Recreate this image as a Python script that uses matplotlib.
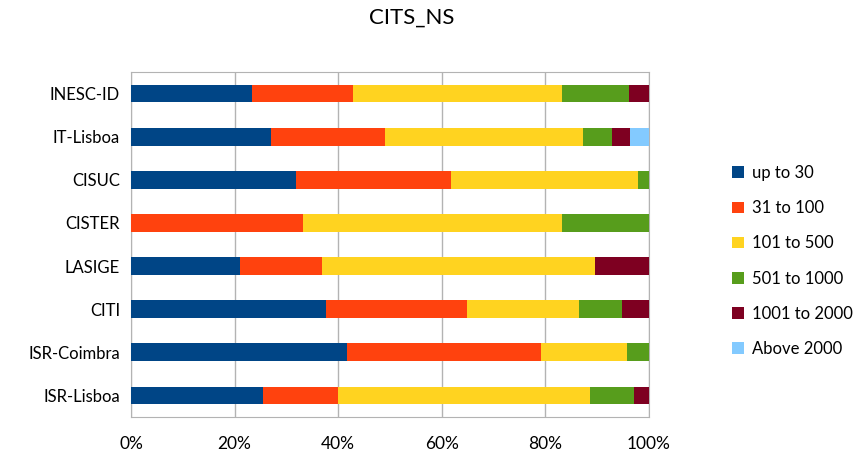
import matplotlib.pyplot as plt
import numpy as np

plt.rcParams['font.family'] = ['Lato', 'DejaVu Sans']

title = "CITS_NS"
centres = ["ISR-Lisboa", "ISR-Coimbra", "CITI", "LASIGE", "CISTER", "CISUC", "IT-Lisboa", "INESC-ID"]
series = ["up to 30", "31 to 100", "101 to 500", "501 to 1000", "1001 to 2000", "Above 2000"]
colors = ["#004586", "#ff420e", "#ffd320", "#579d1c", "#7e0021", "#83caff"]

# percentages per centre (same order as centres)
up_to_30     = [25.5, 41.7, 37.7, 21.0,  0.0, 31.8, 27.1, 23.4]
r31_100      = [14.5, 37.5, 27.1, 15.9, 33.3, 29.9, 21.9, 19.5]
r101_500     = [48.6, 16.6, 21.7, 52.6, 50.0, 36.2, 38.2, 40.3]
r501_1000    = [ 8.5,  4.2,  8.2,  0.0, 16.7,  2.1,  5.6, 13.0]
r1001_2000   = [ 2.9,  0.0,  5.3, 10.5,  0.0,  0.0,  3.6,  3.8]
above_2000   = [ 0.0,  0.0,  0.0,  0.0,  0.0,  0.0,  3.6,  0.0]

data = np.array([up_to_30, r31_100, r101_500, r501_1000, r1001_2000, above_2000])
data = data / data.sum(axis=0) * 100

fig = plt.figure(figsize=(8.59, 4.57), dpi=100)
ax = fig.add_axes([131 / 859, (457 - 417) / 457, 518 / 859, 345 / 457])

y = np.arange(len(centres))
left = np.zeros(len(centres))
for vals, name, col in zip(data, series, colors):
    ax.barh(y, vals, left=left, height=0.41, color=col, label=name, zorder=3)
    left += vals

ax.set_xlim(0, 100)
ax.set_ylim(-0.5, len(centres) - 0.5)
ax.set_xticks([0, 20, 40, 60, 80, 100])
ax.set_xticklabels([f"{t}%" for t in [0, 20, 40, 60, 80, 100]], fontsize=12.5)
ax.set_yticks(y)
ax.set_yticklabels(centres, fontsize=12)
ax.tick_params(length=0, pad=8)
ax.tick_params(axis='x', pad=14)
ax.grid(axis='x', color='#b3b3b3', linewidth=1, zorder=0)
for s in ax.spines.values():
    s.set_color('#b3b3b3')

fig.text(412 / 859, 1 - 18 / 457, title, fontsize=16, ha='center', va='center')

fig.legend(loc='center left', bbox_to_anchor=(732 / 859, 1 - 261 / 457), frameon=False,
           fontsize=12, handlelength=0.7, handleheight=0.7, handletextpad=0.5,
           labelspacing=1.15, borderaxespad=0, borderpad=0)

plt.savefig("out.png", dpi=100)
